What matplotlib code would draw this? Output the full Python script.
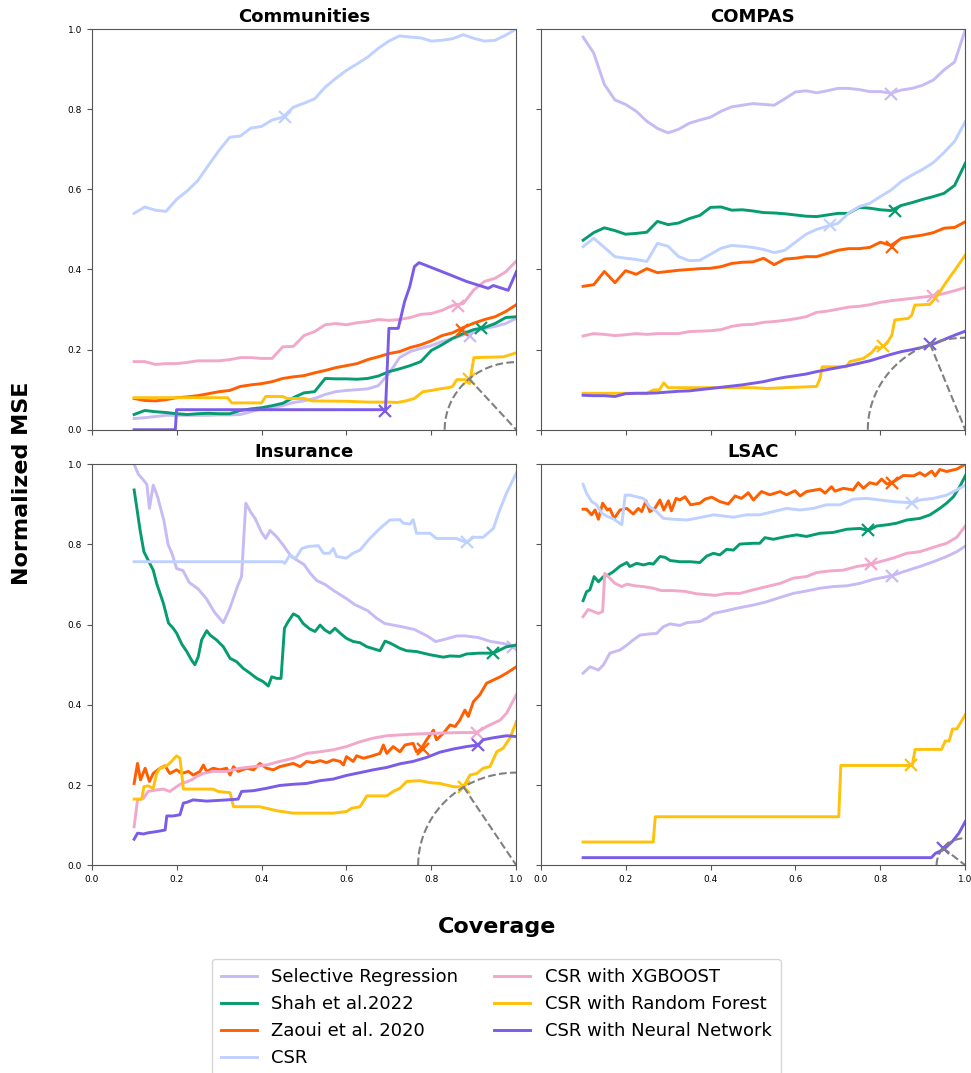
import matplotlib
matplotlib.use('Agg')
import matplotlib.pyplot as plt
import numpy as np

##########################
# series names / colours (legend order)
names = ['Selective Regression', 'Shah et al.2022', 'Zaoui et al. 2020', 'CSR',
         'CSR with XGBOOST', 'CSR with Random Forest', 'CSR with Neural Network']
colors = ['#c8bbf5', '#079c70', '#ff5f00', '#bfd1ff', '#f2a8cb', '#ffc10a', '#7b5ce8']

# common coverage grid used by most series in the top row
grid = [0.100, 0.125, 0.150, 0.175, 0.200, 0.225, 0.250, 0.275, 0.300, 0.325,
        0.350, 0.375, 0.400, 0.425, 0.450, 0.475, 0.500, 0.525, 0.550, 0.575,
        0.600, 0.625, 0.650, 0.675, 0.700, 0.725, 0.750, 0.775, 0.800, 0.825,
        0.850, 0.875, 0.900, 0.925, 0.950, 0.975, 1.000]

# ---------------- Communities
comm_sr = [0.028, 0.030, 0.033, 0.036, 0.036, 0.036, 0.036, 0.036, 0.037, 0.037,
           0.038, 0.045, 0.052, 0.055, 0.060, 0.068, 0.072, 0.078, 0.088, 0.095,
           0.098, 0.100, 0.102, 0.110, 0.140, 0.180, 0.195, 0.203, 0.210, 0.220,
           0.228, 0.236, 0.244, 0.252, 0.258, 0.265, 0.278]
comm_shah = [0.038, 0.048, 0.045, 0.043, 0.040, 0.038, 0.040, 0.041, 0.040, 0.040,
             0.048, 0.052, 0.055, 0.060, 0.066, 0.080, 0.092, 0.095, 0.128, 0.127,
             0.127, 0.126, 0.128, 0.134, 0.145, 0.152, 0.160, 0.170, 0.198, 0.212,
             0.228, 0.240, 0.250, 0.255, 0.265, 0.280, 0.282]
comm_zaoui = [0.078, 0.073, 0.072, 0.075, 0.080, 0.082, 0.085, 0.090, 0.095, 0.098,
              0.108, 0.112, 0.115, 0.120, 0.128, 0.132, 0.135, 0.142, 0.148, 0.155,
              0.160, 0.165, 0.175, 0.182, 0.190, 0.195, 0.205, 0.212, 0.222, 0.235,
              0.242, 0.255, 0.266, 0.275, 0.282, 0.295, 0.312]
comm_csr = [0.540, 0.556, 0.548, 0.545, 0.575, 0.596, 0.622, 0.660, 0.697, 0.730,
            0.733, 0.753, 0.757, 0.773, 0.780, 0.805, 0.815, 0.826, 0.855, 0.877,
            0.897, 0.913, 0.930, 0.952, 0.970, 0.983, 0.980, 0.978, 0.970, 0.972,
            0.976, 0.986, 0.977, 0.970, 0.972, 0.985, 1.000]
comm_xgb = [0.170, 0.170, 0.163, 0.165, 0.165, 0.168, 0.172, 0.172, 0.172, 0.175,
            0.180, 0.180, 0.178, 0.178, 0.207, 0.208, 0.235, 0.245, 0.262, 0.265,
            0.262, 0.267, 0.270, 0.275, 0.273, 0.275, 0.280, 0.288, 0.290, 0.298,
            0.310, 0.315, 0.349, 0.370, 0.378, 0.394, 0.421]
comm_rf_x = [0.10, 0.32, 0.33, 0.40, 0.41, 0.45, 0.46, 0.50, 0.52, 0.60, 0.65, 0.70,
             0.72, 0.74, 0.76, 0.78, 0.80, 0.82, 0.84, 0.85, 0.86, 0.88, 0.89, 0.90,
             0.97, 1.00]
comm_rf = [0.080, 0.080, 0.067, 0.067, 0.083, 0.083, 0.078, 0.078, 0.072, 0.071,
           0.069, 0.069, 0.068, 0.072, 0.078, 0.095, 0.098, 0.102, 0.105, 0.108,
           0.125, 0.125, 0.115, 0.180, 0.182, 0.192]
comm_nn_x = [0.10, 0.197, 0.20, 0.692, 0.70, 0.722, 0.737, 0.749, 0.76, 0.771, 0.80,
             0.836, 0.883, 0.934, 0.946, 0.981, 1.00]
comm_nn = [0.0, 0.0, 0.05, 0.05, 0.253, 0.253, 0.32, 0.357, 0.407, 0.417, 0.405,
           0.39, 0.37, 0.353, 0.36, 0.348, 0.394]
comm_mark_x = [0.891, 0.918, 0.871, 0.455, 0.863, 0.889, 0.691]
comm_mark_y = [0.235, 0.253, 0.250, 0.780, 0.310, 0.127, 0.048]

# ---------------- COMPAS
compas_sr = [0.980, 0.940, 0.862, 0.823, 0.812, 0.795, 0.770, 0.752, 0.741, 0.750,
             0.765, 0.773, 0.780, 0.795, 0.806, 0.810, 0.814, 0.812, 0.810, 0.826,
             0.843, 0.846, 0.841, 0.846, 0.852, 0.852, 0.849, 0.844, 0.844, 0.840,
             0.848, 0.852, 0.860, 0.873, 0.898, 0.918, 0.998]
compas_shah = [0.473, 0.492, 0.504, 0.497, 0.488, 0.490, 0.493, 0.520, 0.512, 0.516,
               0.527, 0.535, 0.555, 0.556, 0.548, 0.549, 0.546, 0.542, 0.541, 0.539,
               0.536, 0.533, 0.532, 0.536, 0.540, 0.540, 0.555, 0.553, 0.549, 0.547,
               0.560, 0.567, 0.575, 0.582, 0.590, 0.610, 0.665]
compas_zaoui = [0.358, 0.362, 0.395, 0.367, 0.397, 0.388, 0.402, 0.392, 0.395, 0.398,
                0.400, 0.402, 0.403, 0.407, 0.415, 0.418, 0.419, 0.428, 0.412, 0.426,
                0.428, 0.432, 0.432, 0.440, 0.448, 0.452, 0.452, 0.455, 0.468, 0.460,
                0.478, 0.482, 0.486, 0.492, 0.503, 0.505, 0.519]
compas_csr = [0.457, 0.478, 0.455, 0.432, 0.428, 0.425, 0.420, 0.465, 0.458, 0.432,
              0.422, 0.423, 0.438, 0.453, 0.460, 0.458, 0.455, 0.450, 0.442, 0.448,
              0.468, 0.488, 0.500, 0.508, 0.515, 0.540, 0.557, 0.565, 0.582, 0.598,
              0.620, 0.636, 0.650, 0.667, 0.692, 0.720, 0.769]
compas_xgb = [0.234, 0.240, 0.238, 0.235, 0.237, 0.240, 0.238, 0.240, 0.240, 0.240,
              0.245, 0.246, 0.247, 0.250, 0.258, 0.262, 0.263, 0.268, 0.270, 0.273,
              0.277, 0.282, 0.293, 0.296, 0.301, 0.306, 0.308, 0.312, 0.318, 0.322,
              0.325, 0.328, 0.331, 0.334, 0.340, 0.347, 0.355]
compas_rf_x = [0.10, 0.25, 0.265, 0.28, 0.29, 0.30, 0.50, 0.532, 0.60, 0.65, 0.658,
               0.663, 0.72, 0.728, 0.76, 0.779, 0.791, 0.799, 0.815, 0.827, 0.834,
               0.866, 0.874, 0.881, 0.917, 0.932, 0.948, 0.964, 0.976, 1.00]
compas_rf = [0.091, 0.091, 0.099, 0.100, 0.117, 0.105, 0.105, 0.103, 0.106, 0.108,
             0.128, 0.157, 0.157, 0.170, 0.178, 0.192, 0.207, 0.203, 0.215, 0.236,
             0.274, 0.278, 0.286, 0.311, 0.313, 0.332, 0.357, 0.382, 0.399, 0.436]
compas_nn = [0.086, 0.085, 0.085, 0.083, 0.090, 0.091, 0.091, 0.092, 0.094, 0.096,
             0.097, 0.100, 0.103, 0.106, 0.109, 0.112, 0.116, 0.120, 0.126, 0.131,
             0.135, 0.139, 0.145, 0.150, 0.155, 0.160, 0.166, 0.172, 0.180, 0.188,
             0.195, 0.200, 0.206, 0.214, 0.225, 0.236, 0.246]
compas_mark_x = [0.826, 0.834, 0.827, 0.681, 0.925, 0.807, 0.917]
compas_mark_y = [0.838, 0.547, 0.457, 0.511, 0.334, 0.209, 0.214]

# ---------------- Insurance
ins_sr_x = [0.10, 0.11, 0.12, 0.13, 0.136, 0.145, 0.155, 0.17, 0.18, 0.19, 0.20,
            0.215, 0.23, 0.25, 0.27, 0.29, 0.31, 0.325, 0.335, 0.345, 0.353, 0.363,
            0.375, 0.385, 0.40, 0.41, 0.42, 0.435, 0.45, 0.47, 0.485, 0.50, 0.515,
            0.53, 0.55, 0.57, 0.60, 0.62, 0.63, 0.65, 0.67, 0.69, 0.73, 0.76, 0.79,
            0.81, 0.83, 0.86, 0.88, 0.91, 0.94, 0.97, 1.00]
ins_sr = [1.0, 0.975, 0.963, 0.95, 0.89, 0.948, 0.92, 0.86, 0.80, 0.775, 0.74, 0.735,
          0.705, 0.69, 0.665, 0.63, 0.605, 0.64, 0.67, 0.70, 0.72, 0.903, 0.88, 0.865,
          0.83, 0.815, 0.835, 0.82, 0.80, 0.77, 0.76, 0.75, 0.728, 0.71, 0.70, 0.685,
          0.665, 0.65, 0.645, 0.635, 0.617, 0.603, 0.595, 0.588, 0.572, 0.558, 0.563,
          0.572, 0.572, 0.568, 0.558, 0.553, 0.545]
ins_shah_x = [0.100, 0.106, 0.114, 0.123, 0.133, 0.145, 0.153, 0.169, 0.181, 0.192,
              0.200, 0.212, 0.224, 0.235, 0.243, 0.251, 0.259, 0.271, 0.279, 0.294,
              0.310, 0.326, 0.341, 0.357, 0.373, 0.389, 0.404, 0.416, 0.424, 0.436,
              0.446, 0.454, 0.463, 0.475, 0.487, 0.498, 0.514, 0.526, 0.538, 0.549,
              0.561, 0.573, 0.585, 0.600, 0.616, 0.632, 0.648, 0.679, 0.691, 0.703,
              0.726, 0.742, 0.765, 0.797, 0.828, 0.844, 0.867, 0.883, 0.914, 0.946,
              0.977, 1.000]
ins_shah = [0.936, 0.894, 0.836, 0.782, 0.761, 0.736, 0.703, 0.653, 0.604, 0.591,
            0.579, 0.552, 0.533, 0.512, 0.500, 0.520, 0.562, 0.585, 0.574, 0.562,
            0.545, 0.516, 0.508, 0.491, 0.479, 0.466, 0.458, 0.447, 0.470, 0.466,
            0.466, 0.591, 0.608, 0.627, 0.620, 0.603, 0.589, 0.583, 0.599, 0.587,
            0.579, 0.591, 0.579, 0.566, 0.558, 0.555, 0.545, 0.535, 0.559, 0.554,
            0.541, 0.535, 0.533, 0.525, 0.519, 0.522, 0.521, 0.527, 0.529, 0.529,
            0.545, 0.549]
ins_zaoui_x = [0.100, 0.108, 0.115, 0.126, 0.136, 0.145, 0.161, 0.173, 0.184, 0.200,
               0.212, 0.228, 0.239, 0.255, 0.263, 0.271, 0.286, 0.302, 0.318, 0.326,
               0.334, 0.345, 0.365, 0.381, 0.396, 0.412, 0.428, 0.443, 0.459, 0.475,
               0.491, 0.506, 0.522, 0.538, 0.553, 0.569, 0.585, 0.593, 0.600, 0.616,
               0.624, 0.640, 0.655, 0.679, 0.687, 0.695, 0.710, 0.726, 0.738, 0.757,
               0.765, 0.777, 0.789, 0.805, 0.812, 0.828, 0.844, 0.856, 0.867, 0.879,
               0.887, 0.899, 0.914, 0.930, 0.946, 0.962, 0.977, 1.000]
ins_zaoui = [0.204, 0.254, 0.213, 0.242, 0.209, 0.229, 0.242, 0.248, 0.229, 0.238,
             0.229, 0.234, 0.225, 0.234, 0.250, 0.234, 0.242, 0.238, 0.242, 0.225,
             0.246, 0.234, 0.242, 0.238, 0.254, 0.242, 0.238, 0.246, 0.250, 0.254,
             0.246, 0.259, 0.256, 0.261, 0.256, 0.263, 0.259, 0.250, 0.271, 0.259,
             0.273, 0.267, 0.271, 0.279, 0.300, 0.279, 0.296, 0.283, 0.300, 0.304,
             0.283, 0.292, 0.313, 0.337, 0.313, 0.329, 0.350, 0.346, 0.362, 0.387,
             0.371, 0.408, 0.425, 0.454, 0.462, 0.470, 0.479, 0.495]
ins_csr_x = [0.10, 0.45, 0.455, 0.467, 0.48, 0.495, 0.51, 0.534, 0.546, 0.56, 0.569,
             0.577, 0.60, 0.615, 0.632, 0.655, 0.679, 0.702, 0.726, 0.734, 0.75,
             0.757, 0.765, 0.797, 0.812, 0.859, 0.883, 0.899, 0.922, 0.946, 0.961,
             0.977, 1.00]
ins_csr = [0.757, 0.757, 0.753, 0.774, 0.765, 0.79, 0.795, 0.797, 0.778, 0.778, 0.79,
           0.77, 0.766, 0.778, 0.786, 0.815, 0.84, 0.861, 0.862, 0.853, 0.851, 0.862,
           0.828, 0.828, 0.815, 0.815, 0.805, 0.818, 0.818, 0.84, 0.886, 0.928, 0.978]
ins_xgb_x = [0.100, 0.108, 0.122, 0.133, 0.153, 0.169, 0.184, 0.200, 0.212, 0.224,
             0.235, 0.247, 0.263, 0.286, 0.318, 0.349, 0.381, 0.412, 0.443, 0.475,
             0.506, 0.538, 0.569, 0.600, 0.632, 0.663, 0.695, 0.726, 0.757, 0.805,
             0.867, 0.907, 0.930, 0.962, 0.977, 1.000]
ins_xgb = [0.096, 0.163, 0.167, 0.184, 0.188, 0.190, 0.184, 0.196, 0.204, 0.208,
           0.213, 0.221, 0.229, 0.234, 0.234, 0.242, 0.246, 0.250, 0.259, 0.267,
           0.279, 0.283, 0.288, 0.296, 0.308, 0.317, 0.323, 0.325, 0.327, 0.329,
           0.331, 0.331, 0.346, 0.362, 0.379, 0.425]
ins_rf_x = [0.100, 0.118, 0.123, 0.133, 0.145, 0.153, 0.161, 0.177, 0.188, 0.200,
            0.208, 0.216, 0.286, 0.298, 0.326, 0.334, 0.396, 0.412, 0.436, 0.475,
            0.569, 0.600, 0.612, 0.632, 0.648, 0.695, 0.710, 0.726, 0.742, 0.773,
            0.797, 0.820, 0.852, 0.875, 0.891, 0.907, 0.922, 0.938, 0.954, 0.969,
            0.985, 1.000]
ins_rf = [0.165, 0.165, 0.196, 0.198, 0.192, 0.229, 0.242, 0.248, 0.259, 0.273,
          0.267, 0.190, 0.190, 0.184, 0.181, 0.146, 0.146, 0.142, 0.136, 0.130,
          0.130, 0.134, 0.142, 0.146, 0.173, 0.173, 0.184, 0.192, 0.209, 0.211,
          0.206, 0.204, 0.196, 0.195, 0.225, 0.229, 0.242, 0.246, 0.283, 0.292,
          0.317, 0.358]
ins_nn_x = [0.100, 0.108, 0.122, 0.133, 0.153, 0.173, 0.177, 0.192, 0.208, 0.216,
            0.224, 0.239, 0.271, 0.318, 0.345, 0.353, 0.381, 0.412, 0.443, 0.475,
            0.506, 0.538, 0.569, 0.600, 0.632, 0.663, 0.695, 0.726, 0.757, 0.789,
            0.820, 0.852, 0.883, 0.910, 0.922, 0.946, 0.977, 1.000]
ins_nn = [0.065, 0.080, 0.078, 0.081, 0.084, 0.088, 0.123, 0.123, 0.126, 0.155,
          0.157, 0.163, 0.160, 0.163, 0.165, 0.184, 0.186, 0.192, 0.199, 0.202,
          0.204, 0.211, 0.215, 0.224, 0.231, 0.238, 0.244, 0.253, 0.259, 0.269,
          0.282, 0.290, 0.296, 0.300, 0.313, 0.318, 0.323, 0.321]
ins_mark_x = [0.993, 0.946, 0.781, 0.883, 0.907, 0.876, 0.910]
ins_mark_y = [0.545, 0.529, 0.289, 0.805, 0.331, 0.195, 0.300]

# ---------------- LSAC
lsac_sr_x = [0.100, 0.116, 0.136, 0.148, 0.163, 0.187, 0.203, 0.218, 0.234, 0.257,
             0.273, 0.289, 0.305, 0.328, 0.344, 0.375, 0.391, 0.407, 0.438, 0.462,
             0.501, 0.532, 0.564, 0.595, 0.626, 0.658, 0.689, 0.721, 0.752, 0.783,
             0.827, 0.854, 0.893, 0.925, 0.956, 0.980, 1.000]
lsac_sr = [0.479, 0.495, 0.487, 0.500, 0.529, 0.537, 0.549, 0.562, 0.574, 0.577,
           0.578, 0.595, 0.602, 0.598, 0.605, 0.608, 0.616, 0.628, 0.635, 0.641,
           0.649, 0.657, 0.668, 0.678, 0.684, 0.691, 0.695, 0.697, 0.703, 0.713,
           0.722, 0.732, 0.745, 0.757, 0.770, 0.782, 0.796]
lsac_shah_x = [0.100, 0.108, 0.116, 0.126, 0.136, 0.148, 0.159, 0.171, 0.187, 0.203,
               0.210, 0.226, 0.242, 0.257, 0.265, 0.281, 0.293, 0.305, 0.328, 0.352,
               0.375, 0.391, 0.407, 0.422, 0.438, 0.454, 0.469, 0.501, 0.516, 0.528,
               0.548, 0.579, 0.603, 0.626, 0.658, 0.689, 0.721, 0.752, 0.772, 0.791,
               0.815, 0.838, 0.862, 0.893, 0.917, 0.940, 0.956, 0.972, 0.987, 1.000]
lsac_shah = [0.660, 0.682, 0.687, 0.720, 0.707, 0.720, 0.724, 0.732, 0.746, 0.755,
             0.745, 0.753, 0.749, 0.753, 0.751, 0.770, 0.768, 0.760, 0.757, 0.757,
             0.755, 0.771, 0.778, 0.774, 0.788, 0.786, 0.801, 0.803, 0.803, 0.817,
             0.813, 0.820, 0.824, 0.820, 0.828, 0.830, 0.838, 0.840, 0.835, 0.846,
             0.849, 0.853, 0.861, 0.865, 0.874, 0.890, 0.903, 0.919, 0.944, 0.971]
lsac_zaoui_x = [0.100, 0.108, 0.120, 0.128, 0.136, 0.146, 0.157, 0.163, 0.173, 0.187,
                0.203, 0.218, 0.230, 0.238, 0.248, 0.257, 0.269, 0.281, 0.290, 0.301,
                0.308, 0.319, 0.328, 0.340, 0.353, 0.375, 0.387, 0.403, 0.422, 0.442,
                0.458, 0.473, 0.489, 0.501, 0.520, 0.540, 0.564, 0.579, 0.599, 0.611,
                0.626, 0.658, 0.670, 0.685, 0.693, 0.713, 0.736, 0.748, 0.760, 0.775,
                0.791, 0.803, 0.815, 0.827, 0.854, 0.878, 0.893, 0.905, 0.921, 0.929,
                0.940, 0.956, 0.980, 1.000]
lsac_zaoui = [0.888, 0.888, 0.874, 0.886, 0.863, 0.903, 0.886, 0.889, 0.865, 0.886,
              0.890, 0.876, 0.890, 0.882, 0.909, 0.882, 0.890, 0.911, 0.886, 0.909,
              0.884, 0.915, 0.911, 0.919, 0.899, 0.903, 0.913, 0.918, 0.907, 0.901,
              0.921, 0.915, 0.929, 0.911, 0.932, 0.924, 0.932, 0.924, 0.934, 0.921,
              0.932, 0.938, 0.928, 0.944, 0.933, 0.940, 0.936, 0.954, 0.940, 0.954,
              0.950, 0.963, 0.951, 0.954, 0.972, 0.971, 0.979, 0.971, 0.983, 0.971,
              0.987, 0.982, 0.988, 1.000]
lsac_csr_x = [0.100, 0.108, 0.120, 0.132, 0.144, 0.157, 0.171, 0.191, 0.199, 0.210,
              0.226, 0.242, 0.257, 0.273, 0.289, 0.312, 0.344, 0.375, 0.407, 0.454,
              0.485, 0.516, 0.548, 0.579, 0.611, 0.642, 0.673, 0.705, 0.736, 0.768,
              0.799, 0.830, 0.874, 0.893, 0.925, 0.956, 0.980, 1.000]
lsac_csr = [0.950, 0.928, 0.907, 0.899, 0.878, 0.870, 0.864, 0.849, 0.923, 0.923,
            0.919, 0.915, 0.894, 0.882, 0.865, 0.863, 0.861, 0.867, 0.874, 0.868,
            0.874, 0.874, 0.882, 0.890, 0.886, 0.890, 0.899, 0.899, 0.913, 0.915,
            0.911, 0.907, 0.904, 0.911, 0.915, 0.923, 0.936, 0.948]
lsac_xgb_x = [0.100, 0.112, 0.124, 0.136, 0.146, 0.151, 0.159, 0.175, 0.191, 0.203,
              0.222, 0.242, 0.265, 0.285, 0.312, 0.340, 0.367, 0.391, 0.411, 0.438,
              0.469, 0.501, 0.532, 0.564, 0.595, 0.626, 0.650, 0.681, 0.713, 0.744,
              0.779, 0.799, 0.830, 0.862, 0.893, 0.925, 0.956, 0.980, 1.000]
lsac_xgb = [0.620, 0.638, 0.633, 0.628, 0.633, 0.728, 0.720, 0.703, 0.695, 0.701,
            0.697, 0.695, 0.691, 0.685, 0.685, 0.683, 0.677, 0.675, 0.673, 0.678,
            0.678, 0.687, 0.695, 0.703, 0.716, 0.720, 0.730, 0.734, 0.736, 0.745,
            0.751, 0.757, 0.766, 0.778, 0.782, 0.793, 0.803, 0.818, 0.846]
lsac_rf_x = [0.10, 0.265, 0.27, 0.702, 0.707, 0.875, 0.882, 0.944, 0.953, 0.962,
             0.97, 0.98, 1.00]
lsac_rf = [0.058, 0.058, 0.121, 0.121, 0.249, 0.249, 0.289, 0.289, 0.31, 0.31,
           0.34, 0.34, 0.375]
lsac_nn_x = [0.10, 0.92, 0.93, 0.945, 0.955, 0.97, 0.985, 1.00]
lsac_nn = [0.019, 0.019, 0.030, 0.037, 0.045, 0.060, 0.080, 0.109]
lsac_mark_x = [0.827, 0.772, 0.827, 0.874, 0.779, 0.872, 0.948]
lsac_mark_y = [0.722, 0.835, 0.954, 0.904, 0.751, 0.250, 0.043]

# title, [(x, y) per series], markers, index of series closest to (1, 0)
panels = [
    ('Communities',
     [(grid, comm_sr), (grid, comm_shah), (grid, comm_zaoui), (grid, comm_csr),
      (grid, comm_xgb), (comm_rf_x, comm_rf), (comm_nn_x, comm_nn)],
     comm_mark_x, comm_mark_y, 5),
    ('COMPAS',
     [(grid, compas_sr), (grid, compas_shah), (grid, compas_zaoui), (grid, compas_csr),
      (grid, compas_xgb), (compas_rf_x, compas_rf), (grid, compas_nn)],
     compas_mark_x, compas_mark_y, 6),
    ('Insurance',
     [(ins_sr_x, ins_sr), (ins_shah_x, ins_shah), (ins_zaoui_x, ins_zaoui),
      (ins_csr_x, ins_csr), (ins_xgb_x, ins_xgb), (ins_rf_x, ins_rf), (ins_nn_x, ins_nn)],
     ins_mark_x, ins_mark_y, 5),
    ('LSAC',
     [(lsac_sr_x, lsac_sr), (lsac_shah_x, lsac_shah), (lsac_zaoui_x, lsac_zaoui),
      (lsac_csr_x, lsac_csr), (lsac_xgb_x, lsac_xgb), (lsac_rf_x, lsac_rf),
      (lsac_nn_x, lsac_nn)],
     lsac_mark_x, lsac_mark_y, 6),
]

##########################
fig = plt.figure(figsize=(9.71, 10.73), dpi=100)
ax_pos = [[0.0944, 0.5995, 0.4373, 0.3734], [0.5568, 0.5995, 0.4373, 0.3734],
          [0.0944, 0.1936, 0.4373, 0.3737], [0.5568, 0.1936, 0.4373, 0.3737]]

handles = []
for k, (title, series, mx, my, best) in enumerate(panels):
    ax = fig.add_axes(ax_pos[k])
    for i, (xs, ys) in enumerate(series):
        ln, = ax.plot(xs, ys, color=colors[i], lw=2.1, label=names[i])
        ax.plot(mx[i], my[i], marker='x', color=colors[i], ms=8, mew=1.6)
        if k == 0:
            handles.append(ln)
    # dashed quarter circle through the best point, centred on (1, 0)
    bx, by = mx[best], my[best]
    r = np.hypot(1 - bx, by)
    t = np.linspace(0, np.pi / 2, 100)
    ax.plot(1 - r * np.cos(t), r * np.sin(t), '--', color='grey', lw=1.5)
    ax.plot([bx, 1.0], [by, 0.0], '--', color='grey', lw=1.5)
    ax.set_xlim(0, 1)
    ax.set_ylim(0, 1)
    ax.set_xticks(np.arange(0, 1.01, 0.2))
    ax.set_yticks(np.arange(0, 1.01, 0.2))
    ax.tick_params(labelsize=6.5, color='#555555')
    for s in ax.spines.values():
        s.set_color('#555555')
    if k < 2:
        ax.set_xticklabels([])
    if k % 2 == 1:
        ax.set_yticklabels([])
    ax.set_title(title, fontsize=13, fontweight='bold', pad=5)

fig.text(0.023, 0.55, 'Normalized MSE', rotation=90, fontsize=16, fontweight='bold',
         ha='center', va='center')
fig.text(0.512, 0.136, 'Coverage', fontsize=16, fontweight='bold', ha='center', va='center')
fig.legend(handles=handles, loc='upper center', bbox_to_anchor=(0.511, 0.1148),
           ncol=2, fontsize=13, borderpad=0.5)

plt.savefig('out.png', dpi=100)
